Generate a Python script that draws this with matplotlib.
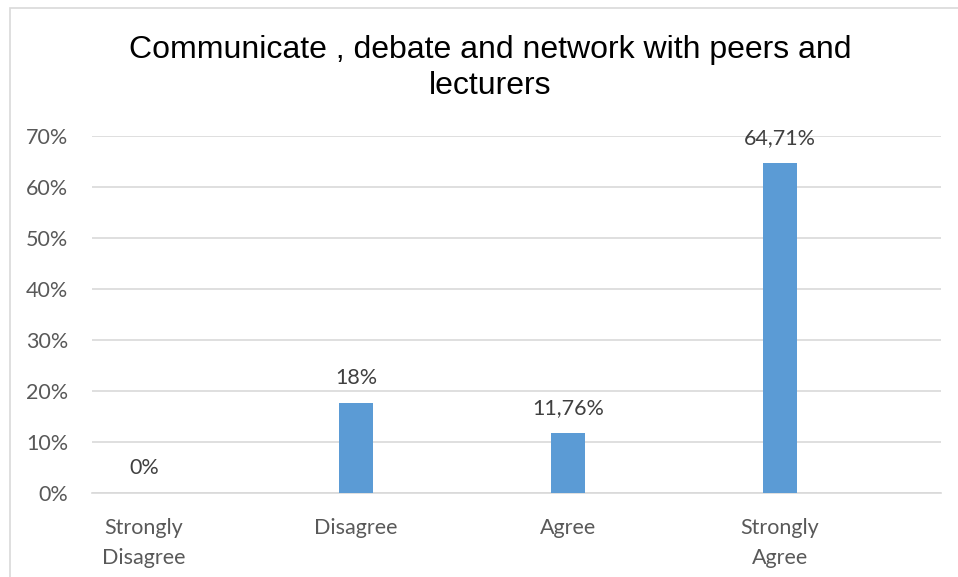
import matplotlib.pyplot as plt
from matplotlib.patches import Rectangle

# data
categories = ['Strongly\nDisagree', 'Disagree', 'Agree', 'Strongly\nAgree']
values = [0.0, 0.1765, 0.1176, 0.6471]
value_labels = ['0%', '18%', '11,76%', '64,71%']
yticks = [0, 0.1, 0.2, 0.3, 0.4, 0.5, 0.6, 0.7]
ytick_labels = ['0%', '10%', '20%', '30%', '40%', '50%', '60%', '70%']
title = 'Communicate , debate and network with peers and\nlecturers'

W, H = 958, 577
fig = plt.figure(figsize=(W / 100, H / 100), dpi=100)

# chart border (light grey, only left/top visible)
fig.patches.append(Rectangle((10 / W, -0.1), 1.2, (H - 8) / H + 0.1,
                             transform=fig.transFigure, fill=False,
                             edgecolor='#D9D9D9', linewidth=1.2))

ax = fig.add_axes([92 / W, (H - 493) / H, (941 - 92) / W, (493 - 136) / H])

x = list(range(len(categories)))
ax.bar(x, values, width=0.157, color='#5B9BD5', zorder=3)

for xi, v, lab in zip(x, values, value_labels):
    ax.text(xi, v + 0.03, lab, ha='center', va='bottom',
            fontsize=15.5, family='Lato', color='#404040')

ax.set_ylim(0, 0.7)
ax.set_xlim(-0.245, 3.76)
ax.set_yticks(yticks)
ax.set_yticklabels(ytick_labels, family='Lato', fontsize=15.5, color='#595959')
ax.set_xticks(x)
ax.set_xticklabels(categories, family='Lato', fontsize=15.5, color='#595959',
                   linespacing=1.6)
ax.tick_params(axis='y', length=0, pad=17)
ax.tick_params(axis='x', length=0, pad=18)
ax.grid(axis='y', color='#D9D9D9', linewidth=1.2, zorder=0)
for s in ['top', 'right', 'left']:
    ax.spines[s].set_visible(False)
ax.spines['bottom'].set_color('#D9D9D9')
ax.spines['bottom'].set_linewidth(1.2)

fig.text(490 / W, 1 - 68 / H, title, ha='center', va='center',
         fontsize=23, family='Liberation Sans', color='black', linespacing=1.22)

fig.savefig('out.png', dpi=100)
